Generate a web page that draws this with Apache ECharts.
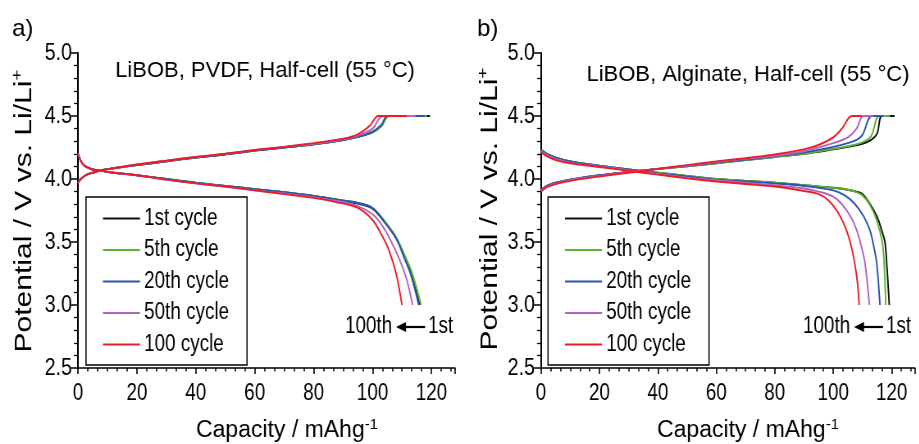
<!DOCTYPE html>
<html><head><meta charset="utf-8">
<script src="https://cdn.jsdelivr.net/npm/echarts@6/dist/echarts.min.js"></script>
<style>
html,body{margin:0;padding:0;background:#fff;overflow:hidden;width:919px;height:444px}
#c{width:1121px;height:444px;transform:scaleX(0.82);transform-origin:0 0}
</style>
</head><body><div id="c"></div>
<script>
// ---- data ----
const cycleNames = ['1st cycle', '5th cycle', '20th cycle', '50th cycle', '100 cycle'];
const capTicks = [0, 20, 40, 60, 80, 100, 120];
const potentialTicks = [2.5, 3.0, 3.5, 4.0, 4.5, 5.0];

// Panel a (PVDF) charge curves [capacity, potential]
const aCharge1st = [[0,3.97],[1,4.00],[2,4.02],[3,4.035],[5,4.05],[8,4.07],[12,4.085],[20,4.11],[30,4.14],[40,4.17],[50,4.195],[60,4.225],[70,4.25],[80,4.275],[90,4.31],[95,4.335],[100,4.37],[103,4.42],[105.5,4.5],[119.5,4.5]];
const aCharge5th = [[0,3.97],[1,4.00],[2,4.02],[3,4.035],[5,4.05],[8,4.07],[12,4.085],[20,4.11],[30,4.14],[40,4.17],[50,4.195],[60,4.225],[70,4.25],[80,4.275],[90,4.31],[95,4.335],[100,4.37],[103,4.42],[105.5,4.5],[118.5,4.5]];
const aCharge20th = [[0,3.97],[1,4.00],[2,4.02],[3,4.035],[5,4.05],[8,4.07],[12,4.085],[20,4.11],[30,4.14],[40,4.17],[50,4.195],[60,4.225],[70,4.25],[80,4.275],[90,4.31],[95,4.335],[100,4.375],[103,4.43],[105,4.5],[117.7,4.5]];
const aCharge50th = [[0,3.97],[1,4.00],[2,4.02],[3,4.035],[5,4.05],[8,4.07],[12,4.085],[20,4.115],[30,4.145],[40,4.175],[50,4.2],[60,4.23],[70,4.255],[80,4.28],[90,4.315],[95,4.345],[100,4.40],[103.5,4.5],[114.6,4.5]];
const aCharge100th = [[0,3.97],[1,4.00],[2,4.02],[3,4.035],[5,4.05],[8,4.07],[12,4.085],[20,4.115],[30,4.145],[40,4.175],[50,4.2],[60,4.23],[70,4.255],[80,4.285],[90,4.32],[95,4.355],[99,4.42],[102,4.5],[111.5,4.5]];
// Panel a discharge curves
const aDischarge1st = [[0,4.2],[1,4.14],[2,4.11],[3,4.095],[5,4.075],[8,4.065],[12,4.05],[20,4.03],[30,4.0],[40,3.97],[50,3.945],[60,3.92],[70,3.895],[80,3.865],[88,3.835],[95,3.805],[100,3.765],[104,3.66],[108,3.53],[111,3.37],[113,3.25],[116,3.0]];
const aDischarge5th = [[0,4.2],[1,4.14],[2,4.11],[3,4.095],[5,4.075],[8,4.065],[12,4.05],[20,4.03],[30,4.0],[40,3.97],[50,3.945],[60,3.92],[70,3.895],[80,3.865],[88,3.835],[95,3.81],[100,3.77],[104,3.67],[108,3.54],[111,3.39],[113.5,3.25],[116.5,3.0]];
const aDischarge20th = [[0,4.2],[1,4.14],[2,4.11],[3,4.095],[5,4.075],[8,4.065],[12,4.05],[20,4.03],[30,4.0],[40,3.97],[50,3.945],[60,3.92],[70,3.895],[80,3.865],[88,3.835],[95,3.81],[100,3.77],[104,3.66],[108,3.53],[111,3.36],[113,3.24],[115.7,3.0]];
const aDischarge50th = [[0,4.2],[1,4.14],[2,4.11],[3,4.095],[5,4.075],[8,4.065],[12,4.05],[20,4.03],[30,3.995],[40,3.965],[50,3.94],[60,3.91],[70,3.885],[80,3.855],[88,3.825],[95,3.785],[100,3.72],[103,3.64],[106,3.52],[109,3.37],[111.5,3.21],[113.6,3.0]];
const aDischarge100th = [[0,4.2],[1,4.14],[2,4.11],[3,4.095],[5,4.075],[8,4.065],[12,4.05],[20,4.03],[30,3.995],[40,3.965],[50,3.94],[60,3.91],[70,3.88],[80,3.85],[88,3.815],[95,3.77],[100,3.675],[103,3.56],[105.5,3.44],[108,3.25],[110,3.0]];

// Panel b (Alginate) charge curves
const bCharge1st = [[0,3.91],[1,3.93],[2,3.945],[5,3.97],[10,3.995],[20,4.03],[30,4.055],[40,4.08],[50,4.1],[60,4.125],[70,4.15],[80,4.175],[90,4.2],[100,4.235],[105,4.255],[110,4.28],[113,4.31],[115,4.36],[116.7,4.5],[121,4.5]];
const bCharge5th = [[0,3.91],[1,3.93],[2,3.945],[5,3.97],[10,3.995],[20,4.03],[30,4.055],[40,4.08],[50,4.1],[60,4.125],[70,4.15],[80,4.175],[90,4.2],[100,4.24],[105,4.26],[110,4.29],[113,4.34],[115.7,4.5],[119.4,4.5]];
const bCharge20th = [[0,3.91],[1,3.93],[2,3.945],[5,3.97],[10,3.995],[20,4.03],[30,4.055],[40,4.08],[50,4.105],[60,4.13],[70,4.155],[80,4.18],[90,4.21],[100,4.255],[105,4.285],[108,4.31],[110,4.35],[113.2,4.5],[117.1,4.5]];
const bCharge50th = [[0,3.905],[1,3.925],[2,3.94],[5,3.965],[10,3.99],[20,4.025],[30,4.055],[40,4.08],[50,4.105],[60,4.135],[70,4.16],[80,4.185],[90,4.22],[100,4.285],[105,4.33],[108,4.4],[110.3,4.5],[113.7,4.5]];
const bCharge100th = [[0,3.9],[1,3.92],[2,3.935],[5,3.96],[10,3.985],[20,4.02],[30,4.05],[40,4.08],[50,4.11],[60,4.14],[70,4.165],[80,4.195],[90,4.235],[95,4.27],[100,4.33],[103,4.4],[106.4,4.5],[109.8,4.5]];
// Panel b discharge curves
const bDischarge1st = [[0,4.23],[1,4.215],[2,4.2],[5,4.17],[10,4.14],[20,4.105],[30,4.075],[40,4.05],[50,4.025],[60,4.0],[70,3.985],[80,3.97],[90,3.95],[100,3.93],[105,3.915],[108,3.9],[110,3.88],[112.6,3.8],[115,3.7],[116.5,3.6],[117.7,3.5],[118.4,3.3],[119.2,3.0]];
const bDischarge5th = [[0,4.23],[1,4.215],[2,4.2],[5,4.17],[10,4.14],[20,4.105],[30,4.075],[40,4.05],[50,4.025],[60,4.0],[70,3.985],[80,3.97],[90,3.95],[100,3.93],[105,3.915],[108,3.895],[110,3.87],[112.4,3.8],[114.8,3.68],[116.8,3.5],[117.5,3.3],[118,3.0]];
const bDischarge20th = [[0,4.23],[1,4.215],[2,4.2],[5,4.17],[10,4.14],[20,4.105],[30,4.075],[40,4.045],[50,4.02],[60,3.995],[70,3.98],[80,3.965],[90,3.945],[100,3.91],[104,3.87],[107.5,3.8],[110.5,3.7],[112.6,3.59],[114,3.45],[114.9,3.33],[116,3.0]];
const bDischarge50th = [[0,4.22],[1,4.205],[2,4.19],[5,4.16],[10,4.13],[20,4.1],[30,4.07],[40,4.04],[50,4.01],[60,3.99],[70,3.97],[80,3.95],[90,3.925],[95,3.9],[100,3.86],[103,3.8],[106,3.7],[108.1,3.59],[109.8,3.45],[110.9,3.33],[112.4,3.0]];
const bDischarge100th = [[0,4.21],[1,4.195],[2,4.18],[5,4.15],[10,4.125],[20,4.095],[30,4.065],[40,4.035],[50,4.005],[60,3.98],[70,3.96],[80,3.94],[90,3.905],[95,3.88],[98.4,3.83],[101.5,3.74],[104.1,3.62],[105.8,3.5],[107,3.38],[108.2,3.2],[108.9,3.0]];

const panelTitles = ['LiBOB, PVDF, Half-cell (55 °C)', 'LiBOB, Alginate, Half-cell (55 °C)'];
const panelLetters = ['a)', 'b)'];

// ---- styling / layout ----
const S = 0.82;               // horizontal squeeze of the original figure (CSS scaleX)
const X = px => px / S;       // final-pixel x -> pre-squeeze x
const colors = ['#111111', '#5cb531', '#2a55b0', '#b463c4', '#ee1c24'];
const REG = "'Liberation Sans', Arial, sans-serif";

const panels = [
  {charge: [aCharge1st, aCharge5th, aCharge20th, aCharge50th, aCharge100th],
   discharge: [aDischarge1st, aDischarge5th, aDischarge20th, aDischarge50th, aDischarge100th]},
  {charge: [bCharge1st, bCharge5th, bCharge20th, bCharge50th, bCharge100th],
   discharge: [bDischarge1st, bDischarge5th, bDischarge20th, bDischarge50th, bDischarge100th]}
];

const series = [];
panels.forEach((p, pi) => {
  cycleNames.forEach((nm, ci) => {
    [p.charge[ci], p.discharge[ci]].forEach(d => {
      series.push({
        type: 'line', name: nm, xAxisIndex: pi, yAxisIndex: pi,
        data: d, showSymbol: false, symbol: 'none', smooth: 0.35,
        lineStyle: {color: colors[ci], width: 1.9}, itemStyle: {color: colors[ci]},
        z: 2 + ci, animation: false
      });
    });
  });
});

const grids = [
  {left: X(78), top: 53, width: X(377), height: 315},
  {left: X(541), top: 53, width: X(374), height: 315}
];

function xAx(i) {
  return {
    type: 'value', gridIndex: i, min: capTicks[0], max: 128, interval: 20,
    axisLine: {lineStyle: {color: '#000', width: 1.6}},
    axisTick: {inside: false, length: 6, lineStyle: {color: '#000', width: 1.6}},
    minorTick: {show: true, splitNumber: 6, length: 3.5, lineStyle: {color: '#000', width: 1.5}},
    splitLine: {show: false},
    axisLabel: {color: '#000', fontSize: 23, fontFamily: REG, margin: 14, showMaxLabel: false}
  };
}
function yAx(i) {
  return {
    type: 'value', gridIndex: i, min: potentialTicks[0], max: potentialTicks[potentialTicks.length - 1], interval: 0.5,
    axisLine: {lineStyle: {color: '#000', width: 2}},
    axisTick: {inside: false, length: X(7), lineStyle: {color: '#000', width: 1.5}},
    minorTick: {show: true, splitNumber: 5, length: X(4), lineStyle: {color: '#000', width: 1.3}},
    splitLine: {show: false},
    axisLabel: {color: '#000', fontSize: 24, fontFamily: REG, margin: X(6), formatter: v => v.toFixed(1)}
  };
}

function legend(left) {
  return {
    orient: 'vertical', left: X(left), top: 197, data: cycleNames,
    borderColor: '#000', borderWidth: 1.5, padding: [10, X(18), 9, X(17)],
    icon: 'rect', itemWidth: X(37), itemHeight: 2, itemGap: 8.5, itemTextGap: X(12),
    textStyle: {color: '#000', fontSize: 23, fontFamily: REG, lineHeight: 23},
    selectedMode: false
  };
}

function txt(x, y, text, size, align, extra) {
  return Object.assign({type: 'text', x: X(x), y: y, silent: true,
    style: {text: text, font: size + 'px ' + REG, fill: '#000', align: align || 'left', verticalAlign: 'middle'}}, extra || {});
}
function richTxt(x, y, main, sup, size, supSize, extra) {
  return Object.assign({type: 'text', x: X(x), y: y, silent: true,
    style: {text: '{m|' + main + '}{s|' + sup + '}', align: 'center', verticalAlign: 'middle', fill: '#000',
      rich: {m: {fontSize: size, fontFamily: REG, fill: '#000', lineHeight: size + 4},
             s: {fontSize: supSize, fontFamily: REG, fill: '#000', verticalAlign: 'top'}}}}, extra || {});
}
function arrowNote(x0, y) {
  // x0 = final-pixel left of "100th"
  return [
    txt(x0, y, '100th', 23, 'left'),
    {type: 'line', silent: true, shape: {x1: X(x0 + 56), y1: y, x2: X(x0 + 80), y2: y}, style: {stroke: '#000', lineWidth: 2.2}},
    {type: 'polygon', silent: true, shape: {points: [[X(x0 + 51), y], [X(x0 + 61), y - 5], [X(x0 + 61), y + 5]]}, style: {fill: '#000'}},
    txt(x0 + 83, y, '1st', 23, 'left')
  ];
}
const unsqueeze = {scaleX: 1 / S};

const graphic = [
  txt(12, 29, panelLetters[0], 24, 'left', unsqueeze),
  txt(477, 29, panelLetters[1], 24, 'left', unsqueeze),
  txt(265, 71, panelTitles[0], 22, 'center', unsqueeze),
  txt(748, 75, panelTitles[1], 22, 'center', unsqueeze),
  richTxt(24, 211, 'Potential / V vs. Li/Li', '+', 30, 19, {rotation: Math.PI / 2}),
  richTxt(490, 209, 'Potential / V vs. Li/Li', '+', 30, 19, {rotation: Math.PI / 2}),
  richTxt(287, 431, 'Capacity / mAhg', '-1', 23, 15, unsqueeze),
  richTxt(748, 431, 'Capacity / mAhg', '-1', 23, 15, unsqueeze)
].concat(arrowNote(345, 327)).concat(arrowNote(803, 327));

const chart = echarts.init(document.getElementById('c'), null, {renderer: 'canvas', width: 1121, height: 444});
chart.setOption({
  animation: false,
  backgroundColor: '#fff',
  grid: grids,
  xAxis: [xAx(0), xAx(1)],
  yAxis: [yAx(0), yAx(1)],
  legend: [legend(86), legend(548)],
  series: series,
  graphic: graphic
});
</script>
</body></html>
